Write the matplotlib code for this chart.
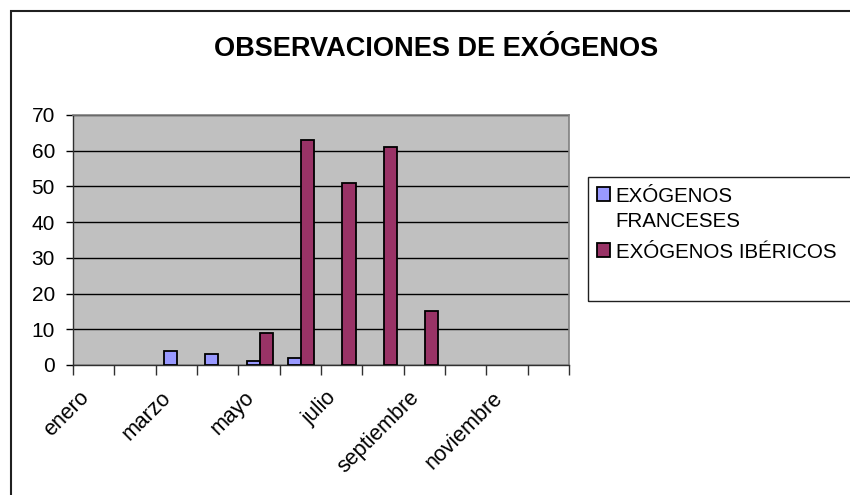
import matplotlib
matplotlib.use("Agg")
import matplotlib.pyplot as plt
import matplotlib.transforms as mtransforms
from matplotlib.patches import Rectangle, Patch
import numpy as np

plt.rcParams['font.family'] = ['Liberation Sans', 'DejaVu Sans']

months = ["enero", "febrero", "marzo", "abril", "mayo", "junio", "julio",
          "agosto", "septiembre", "octubre", "noviembre", "diciembre"]
franceses = [0, 0, 4, 3, 1, 2, 0, 0, 0, 0, 0, 0]
ibericos = [0, 0, 0, 0, 9, 63, 51, 61, 15, 0, 0, 0]
series_labels = ["EXÓGENOS\nFRANCESES", "EXÓGENOS IBÉRICOS"]
series_colors = ["#9999FF", "#993366"]
title = "OBSERVACIONES DE EXÓGENOS"
yticks = [0, 10, 20, 30, 40, 50, 60, 70]

W, H = 850, 495
fig = plt.figure(figsize=(W / 100, H / 100), dpi=100)
ax = fig.add_axes([73 / W, 1 - 365 / H, (569 - 73) / W, (365 - 115) / H])

x = np.arange(len(months))
bw = 0.32
b1 = ax.bar(x - bw / 2 + 0.02, franceses, width=bw, color=series_colors[0],
            edgecolor="black", linewidth=1.3, zorder=3)
b2 = ax.bar(x + bw / 2 + 0.02, ibericos, width=bw, color=series_colors[1],
            edgecolor="black", linewidth=1.3, zorder=3)
for cont in (b1, b2):
    for p in cont.patches:
        if p.get_height() == 0:
            p.set_visible(False)

ax.set_facecolor("#C0C0C0")
ax.set_xlim(-0.5, len(months) - 0.5)
ax.set_ylim(0, 70)
ax.set_yticks(yticks)
ax.yaxis.grid(True, color="black", linewidth=1.0, zorder=1)
ax.set_axisbelow(True)

for s in ["top", "right"]:
    ax.spines[s].set_color("#808080")
    ax.spines[s].set_linewidth(1.2)
for s in ["left", "bottom"]:
    ax.spines[s].set_color("#303030")
    ax.spines[s].set_linewidth(1.0)

ax.tick_params(axis="y", direction="out", length=5, width=1, pad=8,
               labelsize=15, colors="black")
ax.set_xticks(np.arange(-0.5, len(months), 1.0), minor=True)
ax.set_xticks(x[::2])
ax.set_xticklabels(months[::2], rotation=45, ha="right", va="center",
                   rotation_mode="anchor")
ax.tick_params(axis="x", which="major", length=0, pad=21.5, labelsize=15.5)
ax.tick_params(axis="x", which="minor", direction="out", length=7, width=1,
               color="#303030")
offset = mtransforms.ScaledTranslation(-8 / 100, 0, fig.dpi_scale_trans)
for lab in ax.get_xticklabels():
    lab.set_transform(lab.get_transform() + offset)

fig.text(436 / W, 1 - 49 / H, title, ha="center", va="center",
         fontsize=19.5, fontweight="bold")

# figure border
fig.patches.append(Rectangle((11 / W, -0.05), 1.0, 1 - 11 / H + 0.05,
                             transform=fig.transFigure, fill=False,
                             edgecolor="#202020", linewidth=1.5))
# legend box
fig.patches.append(Rectangle((588 / W, 1 - 301 / H), 0.5, (301 - 177) / H,
                             transform=fig.transFigure, fill=False,
                             edgecolor="#202020", linewidth=1.0))

handles = [Patch(facecolor=c, edgecolor="black", linewidth=1.3)
           for c in series_colors]
leg = fig.legend(handles, series_labels, loc="upper left",
                 bbox_to_anchor=(597 / W, 1 - 187 / H), frameon=False,
                 fontsize=14.8, handlelength=0.65, handleheight=0.65,
                 handletextpad=0.25, labelspacing=0.6, borderpad=0,
                 borderaxespad=0)
for t in leg.get_texts():
    t.set_linespacing(1.4)
for col in leg._legend_handle_box.get_children():
    for item in col.get_children():
        item.align = "top"

fig.savefig("out.png", dpi=100)
